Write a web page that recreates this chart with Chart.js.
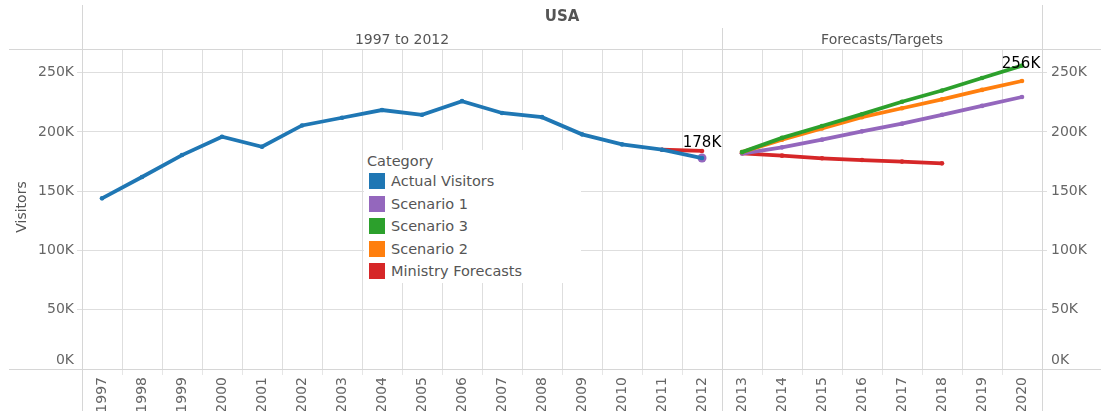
<!DOCTYPE html>
<html>
<head>
<meta charset="utf-8">
<script src="https://cdn.jsdelivr.net/npm/chart.js@4.4.1/dist/chart.umd.min.js"></script>
<style>
  body { margin: 0; background: #ffffff; }
  #wrap { position: relative; width: 1101px; height: 411px; }
  #legend {
    position: absolute; left: 364px; top: 150px; width: 217px; height: 133px;
    background: #ffffff; font-family: "DejaVu Sans", sans-serif; font-size: 14.5px; color: #555555;
  }
  #legend .ttl { position: absolute; left: 3px; top: 3px; }
  #legend .item { position: absolute; left: 5px; height: 17px; line-height: 17px; white-space: nowrap; }
  #legend .sw { display: inline-block; width: 16px; height: 16px; vertical-align: top; margin-right: 6px; }
</style>
</head>
<body>
<div id="wrap">
  <canvas id="chart-canva" width="1101" height="411"></canvas>
  <div id="legend"></div>
</div>
<script>
// categories
const years = ['1997','1998','1999','2000','2001','2002','2003','2004','2005','2006','2007','2008',
               '2009','2010','2011','2012','2013','2014','2015','2016','2017','2018','2019','2020'];
const yTicks = [0, 50000, 100000, 150000, 200000, 250000];

// series values (visitors), null where the series has no value
const actualVisitors = [144000, 162000, 180500, 196000, 187500, 205500, 212000, 218500, 214500, 226000, 216000, 212500,
                        198000, 189500, 185000, 178000, null, null, null, null, null, null, null, null];
const scenario1 = [null, null, null, null, null, null, null, null, null, null, null, null,
                   null, null, null, 178000, 181800, 187000, 193500, 200500, 207000, 214500, 222000, 229500];
const scenario3 = [null, null, null, null, null, null, null, null, null, null, null, null,
                   null, null, null, null, 183000, 195000, 205000, 215000, 225500, 235000, 245500, 256000];
const scenario2 = [null, null, null, null, null, null, null, null, null, null, null, null,
                   null, null, null, null, 183000, 193500, 203000, 212500, 220000, 227500, 235500, 243000];
const ministryForecasts = [null, null, null, null, null, null, null, null, null, null, null, null,
                           null, null, 185000, 184000, 182000, 180000, 177800, 176300, 175000, 173500, null, null];

const panelSplit = 15; // last index of the "1997 to 2012" pane

const FONT = '"DejaVu Sans", sans-serif';
const GRID = '#dedede';
const TXT = '#555555';

// no line between the two panes
const breakAtPanes = {
  borderColor: ctx => ctx.p0DataIndex === panelSplit ? 'rgba(0,0,0,0)' : undefined
};

function series(label, values, color, order, extra) {
  return Object.assign({
    label: label,
    data: values,
    borderColor: color,
    backgroundColor: color,
    borderWidth: 3.8,
    pointRadius: 2.3,
    pointBorderWidth: 0,
    tension: 0,
    spanGaps: false,
    order: order
  }, extra || {});
}

const data = {
  labels: years,
  datasets: [
    series('Actual Visitors', actualVisitors, '#1f77b4', 0),
    series('Scenario 1', scenario1, '#9467bd', 3, {
      segment: breakAtPanes,
      pointRadius: ctx => ctx.dataIndex === panelSplit ? 4.5 : 2.3
    }),
    series('Scenario 3', scenario3, '#2ca02c', 1),
    series('Scenario 2', scenario2, '#ff7f0e', 2),
    series('Ministry Forecasts', ministryForecasts, '#d62728', 4, { segment: breakAtPanes })
  ]
};

// value labels shown on the chart: [dataset index, data index, dx, dy]
const markLabels = [[0, 15, 0, -15], [2, 23, -1, -1]];

const fmtK = v => Math.round(v / 1000) + 'K';

const framePlugin = {
  id: 'tableauFrame',
  beforeDatasetsDraw(chart) {
    const c = chart.ctx;
    const a = chart.chartArea;
    const x = chart.scales.x;
    const mid = (x.getPixelForValue(panelSplit) + x.getPixelForValue(panelSplit + 1)) / 2;
    c.save();
    c.strokeStyle = '#d6d6d6';
    c.lineWidth = 1;
    c.beginPath();
    c.moveTo(9, a.top + 0.5); c.lineTo(chart.width, a.top + 0.5);
    c.moveTo(9, a.bottom + 0.5); c.lineTo(chart.width, a.bottom + 0.5);
    c.moveTo(a.left + 0.5, 5); c.lineTo(a.left + 0.5, chart.height);
    c.moveTo(a.right + 0.5, 5); c.lineTo(a.right + 0.5, chart.height);
    c.moveTo(Math.round(mid) + 0.5, 28); c.lineTo(Math.round(mid) + 0.5, chart.height);
    c.stroke();

    // headers
    c.fillStyle = TXT;
    c.textAlign = 'center';
    c.textBaseline = 'middle';
    c.font = 'bold 15px ' + FONT;
    c.fillText('USA', (a.left + a.right) / 2, 17);
    c.font = '14px ' + FONT;
    c.fillText('1997 to 2012', (a.left + mid) / 2, 40);
    c.fillText('Forecasts/Targets', (mid + a.right) / 2, 40);

    // axis titles
    c.save();
    c.translate(22, 207);
    c.rotate(-Math.PI / 2);
    c.fillText('Visitors', 0, 0);
    c.restore();
    c.save();
    c.translate(1106, 210);
    c.rotate(Math.PI / 2);
    c.fillText('Visitors', 0, 0);
    c.restore();

    // the zero labels sit just above the axis line, inside the pane
    c.fillStyle = '#666666';
    c.textBaseline = 'middle';
    c.textAlign = 'right';
    c.fillText(fmtK(0), a.left - 8, a.bottom - 9);
    c.textAlign = 'left';
    c.fillText(fmtK(0), a.right + 9, a.bottom - 9);
    c.restore();
  },
  afterDatasetsDraw(chart) {
    const c = chart.ctx;
    c.save();
    c.fillStyle = '#000000';
    c.font = '15px ' + FONT;
    c.textAlign = 'center';
    c.textBaseline = 'middle';
    markLabels.forEach(([ds, i, dx, dy]) => {
      const v = chart.data.datasets[ds].data[i];
      const px = chart.scales.x.getPixelForValue(i);
      const py = chart.scales.y.getPixelForValue(v);
      c.fillText(fmtK(v), px + dx, py + dy);
    });
    c.restore();
  }
};

function yAxis(position, width, padding) {
  return {
    type: 'linear',
    position: position,
    min: 0,
    max: 270000,
    afterBuildTicks: scale => { scale.ticks = yTicks.map(v => ({ value: v })); },
    afterFit: scale => { scale.width = width; },
    border: { display: false },
    grid: {
      color: GRID,
      drawOnChartArea: position === 'left',
      tickLength: 5,
      tickColor: GRID
    },
    ticks: {
      color: '#666666',
      font: { family: FONT, size: 14 },
      padding: padding,
      callback: v => v === 0 ? '' : fmtK(v)
    }
  };
}

const config = {
  type: 'line',
  data: data,
  options: {
    responsive: false,
    animation: false,
    layout: { padding: { top: 49, left: 0, right: 0, bottom: 0 } },
    plugins: {
      legend: { display: false },
      title: { display: false },
      tooltip: { enabled: false }
    },
    scales: {
      x: {
        type: 'category',
        offset: true,
        afterFit: scale => { scale.height = 42; },
        border: { display: false },
        grid: {
          offset: true,
          color: GRID,
          tickLength: 6,
          tickColor: '#e6e6e6'
        },
        ticks: {
          color: '#666666',
          font: { family: FONT, size: 14 },
          autoSkip: false,
          minRotation: 90,
          maxRotation: 90,
          padding: 2
        }
      },
      y: yAxis('left', 82, 3),
      y2: yAxis('right', 59, 4)
    }
  },
  plugins: [framePlugin]
};

const chart = new Chart(document.getElementById('chart-canva'), config);

// legend box drawn over the plot, like the original
const legendBox = document.getElementById('legend');
legendBox.innerHTML = '<div class="ttl">Category</div>';
data.datasets.forEach((d, i) => {
  const row = document.createElement('div');
  row.className = 'item';
  row.style.top = (23 + i * 22.5) + 'px';
  row.innerHTML = '<span class="sw" style="background:' + d.borderColor + '"></span>' + d.label;
  legendBox.appendChild(row);
});
</script>
</body>
</html>
